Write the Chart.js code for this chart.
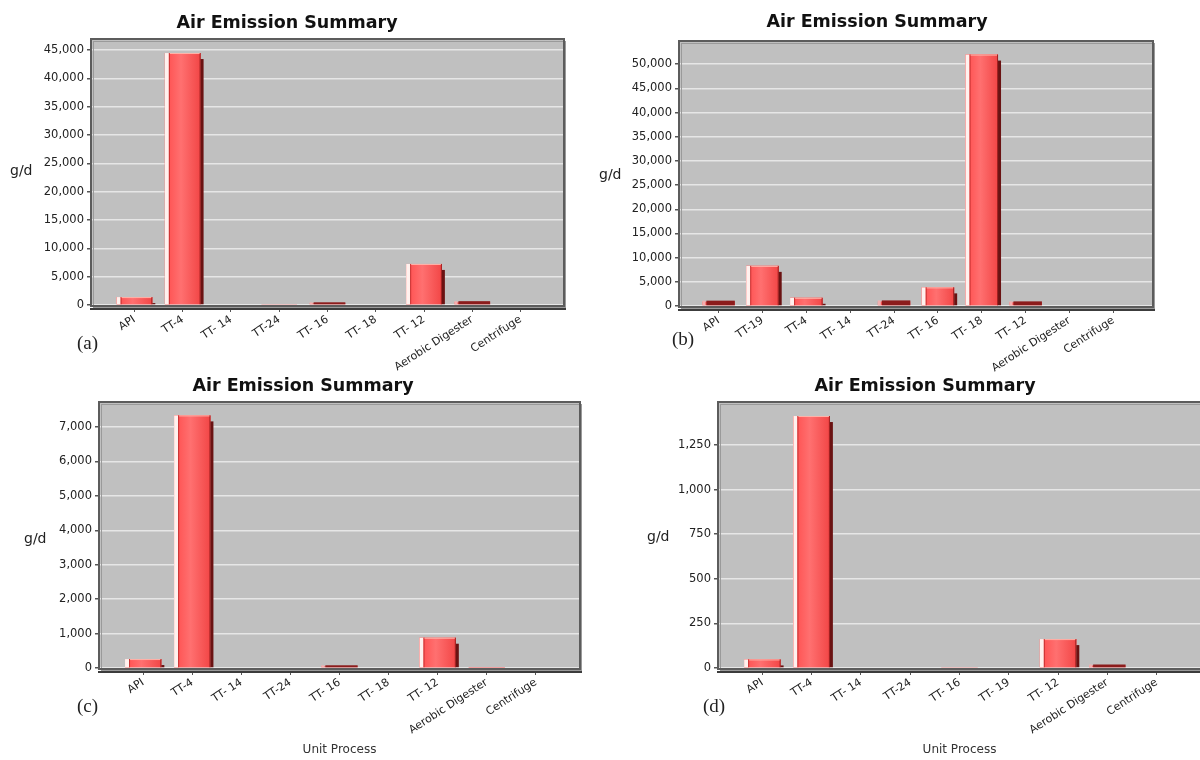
<!DOCTYPE html>
<html>
<head>
<meta charset="utf-8">
<script src="https://cdn.jsdelivr.net/npm/chart.js@4.4.1/dist/chart.umd.min.js"></script>
<style>
  body { margin: 0; background: #fff; }
  #page { position: relative; width: 1200px; height: 760px; overflow: hidden; font-family: "DejaVu Sans", sans-serif; background: #fff; }
  canvas { position: absolute; }
  .title { position: absolute; font-weight: bold; font-size: 17.5px; color: #111; transform: translate(-50%, -50%); white-space: nowrap; }
  .ylab { position: absolute; font-size: 14px; color: #222; transform: translateY(-50%); }
  .tag { position: absolute; font-family: "Liberation Serif", serif; font-size: 19px; color: #222; transform: translateY(-50%); }
</style>
</head>
<body>
<div id="page">
  <canvas id="chartA" width="595" height="378" style="left:0;top:0"></canvas>
  <canvas id="chartB" width="605" height="378" style="left:595px;top:0"></canvas>
  <canvas id="chartC" width="600" height="382" style="left:0;top:378px"></canvas>
  <canvas id="chartD" width="600" height="382" style="left:600px;top:378px"></canvas>

  <div class="title" style="left:287px;top:22px">Air Emission Summary</div>
  <div class="title" style="left:877px;top:21px">Air Emission Summary</div>
  <div class="title" style="left:303px;top:385px">Air Emission Summary</div>
  <div class="title" style="left:925px;top:385px">Air Emission Summary</div>

  <div class="ylab" style="left:10px;top:170px">g/d</div>
  <div class="ylab" style="left:599px;top:174px">g/d</div>
  <div class="ylab" style="left:24px;top:538px">g/d</div>
  <div class="ylab" style="left:647px;top:536px">g/d</div>

  <div class="tag" style="left:77px;top:343px">(a)</div>
  <div class="tag" style="left:672px;top:339px">(b)</div>
  <div class="tag" style="left:77px;top:706px">(c)</div>
  <div class="tag" style="left:703px;top:706px">(d)</div>
</div>

<script>
// unit processes and emissions (g/d)
const labelsA = ['API', 'TT-4', 'TT- 14', 'TT-24', 'TT- 16', 'TT- 18', 'TT- 12', 'Aerobic Digester', 'Centrifuge'];
const valuesA = [1400, 44500, 0, 80, 300, 0, 7250, 500, 0];

const labelsB = ['API', 'TT-19', 'TT-4', 'TT- 14', 'TT-24', 'TT- 16', 'TT- 18', 'TT- 12', 'Aerobic Digester', 'Centrifuge'];
const valuesB = [900, 8300, 1700, 0, 950, 3850, 52000, 750, 0, 0];

const labelsC = ['API', 'TT-4', 'TT- 14', 'TT-24', 'TT- 16', 'TT- 18', 'TT- 12', 'Aerobic Digester', 'Centrifuge'];
const valuesC = [260, 7340, 0, 0, 50, 0, 880, 10, 0];

const labelsD = ['API', 'TT-4', 'TT- 14', 'TT-24', 'TT- 16', 'TT- 19', 'TT- 12', 'Aerobic Digester', 'Centrifuge'];
const valuesD = [48, 1412, 0, 0, 6, 0, 162, 14, 0];

// y axis tick values and top of each range
const yTicksA = [0, 5000, 10000, 15000, 20000, 25000, 30000, 35000, 40000, 45000];
const yTicksB = [0, 5000, 10000, 15000, 20000, 25000, 30000, 35000, 40000, 45000, 50000];
const yTicksC = [0, 1000, 2000, 3000, 4000, 5000, 6000, 7000];
const yTicksD = [0, 250, 500, 750, 1000, 1250];
const yMaxA = 46800, yMaxB = 54600, yMaxC = 7700, yMaxD = 1485;

const FONT = '"DejaVu Sans", sans-serif';

// grey plot background, 3D-looking bars and frame
const panelPlugin = {
  id: 'panelLook',
  beforeDraw(chart) {
    const { ctx, chartArea: a } = chart;
    ctx.save();
    ctx.fillStyle = '#c0c0c0';
    ctx.fillRect(a.left, a.top, a.right - a.left, a.bottom - a.top);
    ctx.restore();
  },
  afterDatasetsDraw(chart) {
    const ctx = chart.ctx;
    chart.getDatasetMeta(0).data.forEach(bar => {
      const { x, y, base, width } = bar.getProps(['x', 'y', 'base', 'width'], true);
      const h = base - y;
      if (h < 0.5) return;
      const l = x - width / 2, r = x + width / 2;
      ctx.save();
      if (h < 4) {
        ctx.fillStyle = '#8c1c1c';
        ctx.fillRect(l + 4, y - 1, width - 4, h + 1);
        ctx.fillStyle = '#f3b0b0';
        ctx.fillRect(l, y - 1, 3, h + 1);
        ctx.restore();
        return;
      }
      const g = ctx.createLinearGradient(l, 0, r, 0);
      g.addColorStop(0, '#ff4c4c');
      g.addColorStop(0.45, '#ff7070');
      g.addColorStop(1, '#f24646');
      ctx.fillStyle = g;
      ctx.fillRect(l, y, width, h);
      ctx.fillStyle = '#fff1ee';
      ctx.fillRect(l, y, 4, h);
      ctx.fillStyle = '#c83232';
      ctx.fillRect(l + 4, y, 1, h);
      ctx.fillStyle = '#a02020';
      ctx.fillRect(r - 1, y, 1, h);
      const d = Math.min(6, h);
      ctx.fillStyle = '#6a1212';
      ctx.fillRect(r, y + d, 3, h - d);
      ctx.fillStyle = '#ffb4aa';
      ctx.fillRect(l + 5, y, width - 6, 1);
      ctx.restore();
    });
  },
  afterDraw(chart) {
    const { ctx, chartArea: a } = chart;
    ctx.save();
    ctx.strokeStyle = '#9a9a9a';
    ctx.lineWidth = 1;
    ctx.strokeRect(a.left + 1.5, a.top + 1.5, a.right - a.left + 1, a.bottom - a.top + 1);
    ctx.strokeStyle = '#5c5c5c';
    ctx.lineWidth = 2;
    ctx.strokeRect(a.left - 1, a.top - 1, a.right - a.left + 2, a.bottom - a.top + 2);
    ctx.strokeStyle = '#3c3c3c';
    ctx.beginPath();
    ctx.moveTo(a.left - 2, a.bottom + 4);
    ctx.lineTo(a.right + 3, a.bottom + 4);
    ctx.stroke();
    ctx.restore();
  }
};

function makeChart(id, labels, values, yTicks, yMax, box) {
  const pad = 0.88;
  new Chart(document.getElementById(id), {
    type: 'bar',
    data: {
      datasets: [{
        data: values.map((v, i) => ({ x: i, y: v })),
        backgroundColor: '#ff5a5a',
        borderWidth: 0,
        categoryPercentage: 1,
        barPercentage: 0.74
      }]
    },
    options: {
      responsive: false,
      animation: false,
      layout: { padding: { left: 0, top: box.top, right: box.right, bottom: 0 } },
      plugins: { legend: { display: false }, tooltip: { enabled: false } },
      scales: {
        x: {
          type: 'linear',
          offset: false,
          min: -pad,
          max: labels.length - 1 + pad,
          afterBuildTicks: s => { s.ticks = labels.map((_, i) => ({ value: i })); },
          afterFit: s => { s.height = box.xHeight; s.paddingLeft = 0; s.paddingRight = 0; },
          ticks: {
            autoSkip: false,
            minRotation: 33,
            maxRotation: 33,
            padding: 1,
            color: '#222',
            font: { family: FONT, size: 11 },
            callback: v => labels[v]
          },
          grid: { offset: false, drawOnChartArea: false, tickLength: 7, color: '#555' },
          border: { display: false },
          title: {
            display: box.xTitle,
            text: 'Unit Process',
            color: '#333',
            font: { family: FONT, size: 12 },
            padding: { top: 0, bottom: 3 }
          }
        },
        y: {
          min: 0,
          max: yMax,
          afterBuildTicks: s => { s.ticks = yTicks.map(v => ({ value: v })); },
          afterFit: s => { s.width = box.left; s.paddingTop = 0; s.paddingBottom = 0; },
          ticks: {
            padding: 3,
            color: '#222',
            font: { family: FONT, size: 11.5 },
            callback: v => v.toLocaleString('en-US')
          },
          grid: { color: 'rgba(236,236,236,0.85)', lineWidth: 1.5, tickLength: 5, tickColor: '#555' },
          border: { display: false }
        }
      }
    },
    plugins: [panelPlugin]
  });
}

makeChart('chartA', labelsA, valuesA, yTicksA, yMaxA, { left: 92, top: 40, right: 32, xHeight: 73, xTitle: false });
makeChart('chartB', labelsB, valuesB, yTicksB, yMaxB, { left: 85, top: 42, right: 48, xHeight: 72, xTitle: false });
makeChart('chartC', labelsC, valuesC, yTicksC, yMaxC, { left: 100, top: 25, right: 21, xHeight: 92, xTitle: true });
makeChart('chartD', labelsD, valuesD, yTicksD, yMaxD, { left: 119, top: 25, right: 0, xHeight: 92, xTitle: true });
</script>
</body>
</html>
